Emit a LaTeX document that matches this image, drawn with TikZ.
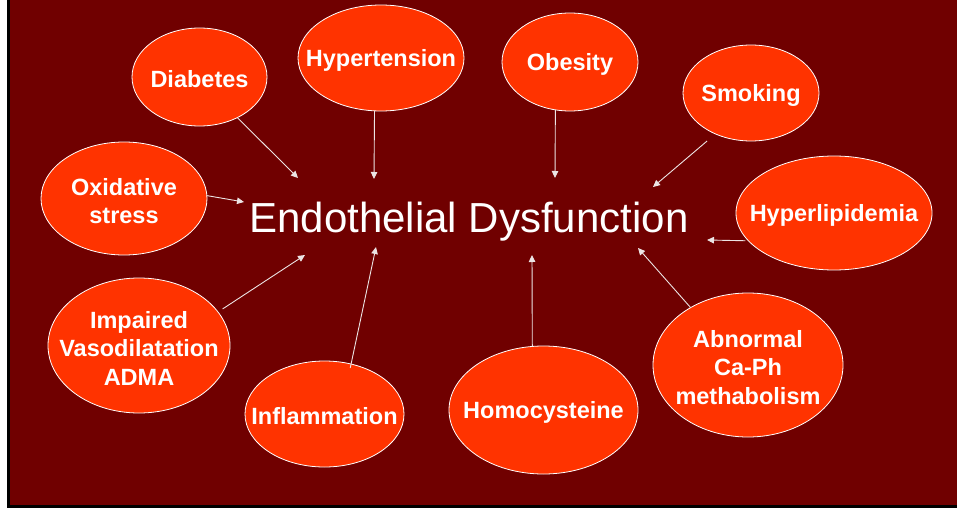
\documentclass[tikz,border=0pt]{standalone}
\usepackage{fontspec}
\setmainfont{Liberation Sans}
\usetikzlibrary{arrows.meta,shapes.geometric}
\definecolor{bgred}{RGB}{112,0,0}
\definecolor{bubred}{RGB}{255,51,0}
\definecolor{arrcol}{RGB}{236,228,228}
\tikzset{
  bubble/.style={ellipse, draw=white, line width=0.8pt, fill=bubred, inner sep=0pt, outer sep=0pt},
  lbl/.style={text=white, font=\bfseries\fontsize{23.5}{28.5}\selectfont, align=center, inner sep=0pt, yshift=-2.5pt},
  arr/.style={draw=arrcol, line width=0.9pt, -{Triangle[length=7pt,width=6.5pt]}},
}
\begin{document}
\begin{tikzpicture}[x=1pt,y=-1pt]
\useasboundingbox (0,0) rectangle (957,508);
\fill[white] (0,0) rectangle (957,508);
\fill[black] (7,0) rectangle (957,508);
\fill[bgred] (10,0) rectangle (957,505);

\node[anchor=base, text=white, font=\fontsize{42}{50}\selectfont, inner sep=0pt] (ed) at (469,232) {Endothelial Dysfunction};

\node[bubble, minimum width=135pt, minimum height=98pt, label={[lbl]center:Diabetes}] (diab) at (199.5,77) {};
\node[bubble, minimum width=166pt, minimum height=106pt, label={[lbl]center:Hypertension}] (hyp) at (381,58) {};
\node[bubble, minimum width=136pt, minimum height=98pt, label={[lbl]center:Obesity}] (obes) at (570,62) {};
\node[bubble, minimum width=136pt, minimum height=96pt, label={[lbl]center:Smoking}] (smok) at (751,93) {};
\node[bubble, minimum width=196pt, minimum height=114pt, label={[lbl]center:Hyperlipidemia}] (lip) at (834,213) {};
\node[bubble, minimum width=166pt, minimum height=113pt, label={[lbl]center:Oxidative\\stress}] (oxi) at (124,198.5) {};
\node[bubble, minimum width=182pt, minimum height=135pt, label={[lbl]center:Impaired\\Vasodilatation\\ADMA}] (imp) at (139,345.5) {};
\node[bubble, minimum width=159pt, minimum height=106pt, label={[lbl]center:Inflammation}] (infl) at (324.5,414) {};
\node[bubble, minimum width=189pt, minimum height=128pt, label={[lbl]center:Homocysteine}] (homo) at (543.5,410) {};
\node[bubble, minimum width=190pt, minimum height=144pt, label={[lbl]center:Abnormal\\Ca-Ph\\methabolism}] (abn) at (748,365) {};

\coordinate (tDiab) at (298,178);
\coordinate (tHyp) at (374,179);
\coordinate (tObes) at (555,178);
\coordinate (tSmok) at (653,187);
\coordinate (tLip) at (707,240);
\coordinate (tOxi) at (244,202);
\coordinate (tImp) at (305,255);
\coordinate (tInfl) at (376,247);
\coordinate (tHomo) at (532,255);
\coordinate (tAbn) at (638,248);

\draw[arr] (diab.-47.5) -- (tDiab);
\draw[arr] (hyp.-97.5) -- (tHyp);
\draw[arr] (obes.-107) -- (tObes);
\draw[arr, shorten <=11pt] (smok.-131) -- (tSmok);
\draw[arr, shorten <=3pt] (lip.-162.6) -- (tLip);
\draw[arr] (oxi.2.4) -- (tOxi);
\draw[arr, shorten <=5.6pt] (imp.23.8) -- (tImp);
\draw[arr, shorten <=-4pt] (infl.62.8) -- (tInfl);
\draw[arr] (homo.100.3) -- (tHomo);
\draw[arr] (abn.135) -- (tAbn);
\end{tikzpicture}
\end{document}
